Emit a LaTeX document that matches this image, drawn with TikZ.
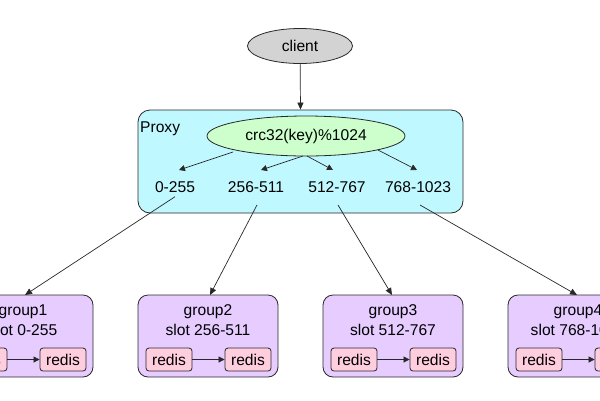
\documentclass[tikz,border=0pt]{standalone}
\usepackage{fontspec}
\setmainfont{Liberation Sans}
\usetikzlibrary{shapes.geometric,arrows.meta}
\definecolor{clientfill}{RGB}{211,211,211}
\definecolor{proxyfill}{RGB}{192,248,255}
\definecolor{hashfill}{RGB}{204,255,204}
\definecolor{groupfill}{RGB}{231,204,255}
\definecolor{redisfill}{RGB}{255,206,222}
\definecolor{edge}{RGB}{40,40,40}
\begin{document}
\begin{tikzpicture}[x=1pt,y=-1pt,
  font=\fontsize{15.6}{18}\selectfont,
  every node/.style={text=black},
  oval/.style={ellipse,draw=edge,line width=0.8pt,inner sep=0pt},
  groupbox/.style={draw=edge,line width=0.8pt,rounded corners=10pt,fill=groupfill,minimum width=140pt,minimum height=82pt},
  redisbox/.style={draw=edge,line width=0.8pt,rounded corners=3pt,fill=redisfill,minimum width=46pt,minimum height=23pt,inner sep=0pt},
  rangelbl/.style={inner sep=2pt},
  arr/.style={-{Triangle[length=7pt,width=6pt]},line width=0.7pt,draw=edge},
  arrs/.style={-{Triangle[length=6pt,width=6pt]},line width=0.7pt,draw=edge}]
\useasboundingbox (0,0) rectangle (600,400);
\clip (0,0) rectangle (600,400);
% client
\node[oval,fill=clientfill,minimum width=105pt,minimum height=35pt] (client) at (300,46) {client};
% proxy
\node[draw=edge,line width=0.8pt,rounded corners=12pt,fill=proxyfill,minimum width=325pt,minimum height=103pt,inner sep=0pt] (proxy) at (300.5,161.5) {};
\node[anchor=west,inner sep=0pt] (proxylbl) at (140,129) {Proxy};
\node[oval,fill=hashfill,minimum width=198pt,minimum height=40pt] (hash) at (306,136) {crc32(key)\%1024};
\node[rangelbl] (r1) at (175,187) {0-255};
\node[rangelbl] (r2) at (256,187) {256-511};
\node[rangelbl] (r3) at (337,187) {512-767};
\node[rangelbl] (r4) at (418,187) {768-1023};
\draw[arr] (client) -- (proxy.north);
\draw[arrs] (233,152) -- (179,170);
\draw[arrs] (303,156) -- (261,170);
\draw[arrs] (307,156) -- (333,170);
\draw[arrs] (378,150) -- (417,170);
% groups
\foreach \i/\x/\s in {1/23/0-255,2/208/256-511,3/393/512-767,4/578/768-1023}{
  \node[groupbox] (g\i) at (\x,336) {};
  \node[inner sep=0pt] (gt\i) at (\x,312) {group\i};
  \node[inner sep=0pt] (gs\i) at (\x,330) {slot \s};
  \node[redisbox] (ra\i) at (\x-39,359.5) {redis};
  \node[redisbox] (rb\i) at (\x+40,359.5) {redis};
  \draw[arrs] (ra\i) -- (rb\i);
}
\draw[arr] (r1.south) ++(0,2) -- (25,295);
\draw[arr] (257,205) -- (210,295);
\draw[arr] (338,205) -- (392,295);
\draw[arr] (420,205) -- (577,295);
\end{tikzpicture}
\end{document}
